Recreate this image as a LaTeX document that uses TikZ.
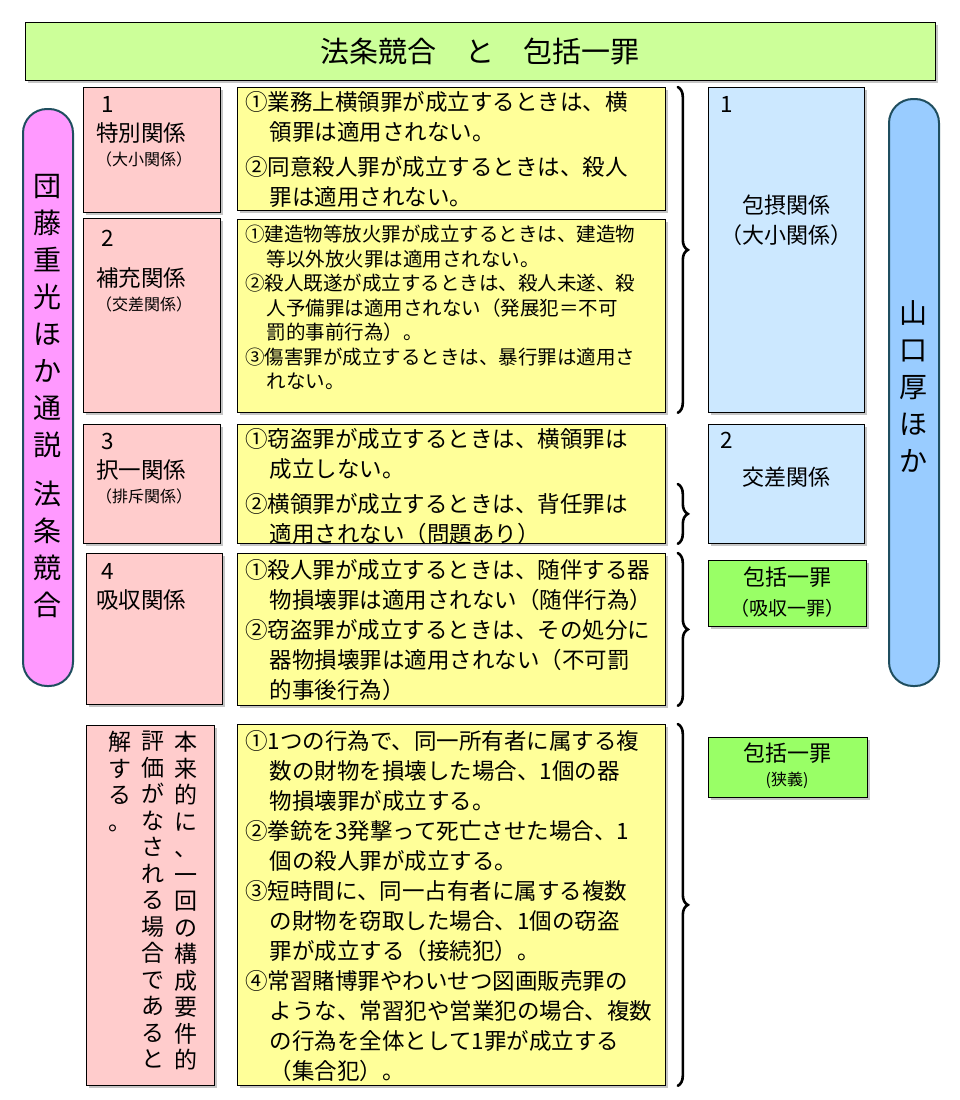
\documentclass[tikz,border=0pt]{standalone}
\usepackage{fontspec}
\setmainfont{Noto Sans CJK JP}[BoldFont={Noto Sans CJK JP Bold}]
\usetikzlibrary{shadows,decorations.pathreplacing}
\definecolor{tgreen}{HTML}{CCFF99}
\definecolor{tpink}{HTML}{FFCCCC}
\definecolor{tyel}{HTML}{FFFF99}
\definecolor{tblue}{HTML}{CCE8FF}
\definecolor{tgr2}{HTML}{99FF66}
\definecolor{tvio}{HTML}{FF99FF}
\definecolor{tsky}{HTML}{99CCFF}
\definecolor{tedge}{HTML}{1F4E5F}
\begin{document}
\begin{tikzpicture}[x=1pt,y=-1pt,
  box/.style={draw=black,line width=0.8pt,anchor=north west,inner sep=0pt,
    drop shadow={shadow xshift=3pt,shadow yshift=-3pt,fill=black!45}},
  pill/.style={draw=tedge,line width=2pt,rounded corners=24pt,anchor=north west,inner sep=0pt},
  txt/.style={anchor=north west,align=left,inner sep=0pt,font=\fontsize{22.5}{30}\selectfont},
  stxt/.style={anchor=north west,align=left,inner sep=0pt,font=\fontsize{19.5}{24.5}\selectfont},
  ctxt/.style={align=center,inner sep=0pt,font=\fontsize{22}{30}\selectfont},
  vtxt/.style={align=center,inner sep=0pt,font=\fontsize{28}{37}\selectfont},
  brc/.style={decorate,decoration={brace,amplitude=10pt},line width=2.6pt,line cap=round}]
\useasboundingbox (0,0) rectangle (960,1100);
% title
\node[box,fill=tgreen,minimum width=910pt,minimum height=58pt] (title) at (25,22) {};
\node[font=\fontsize{29}{30}\selectfont] (titlet) at (title.center) {法条競合　と　包括一罪};
% pills
\node[pill,fill=tvio,minimum width=50pt,minimum height=577pt] (lp) at (22,108) {};
\node[vtxt] (lpt) at (47,396) {団\\藤\\重\\光\\ほ\\か\\通\\説\\[12pt]法\\条\\競\\合};
\node[pill,fill=tsky,minimum width=50pt,minimum height=587pt] (rp) at (888,98) {};
\node[vtxt,anchor=north] (rpt) at (913,300) {山\\口\\厚\\ほ\\か};
% pink boxes
\node[box,fill=tpink,minimum width=137pt,minimum height=125pt] (p1) at (83,87) {};
\node[box,fill=tpink,minimum width=137pt,minimum height=194pt] (p2) at (83,218) {};
\node[box,fill=tpink,minimum width=137pt,minimum height=119pt] (p3) at (83,424) {};
\node[box,fill=tpink,minimum width=136pt,minimum height=151pt] (p4) at (86,553) {};
\node[box,fill=tpink,minimum width=128pt,minimum height=360pt] (p5) at (86,725) {};
\node[txt] (p1t) at (96,96) {\ 1\\[-1pt]特別関係\\[-6pt]{\fontsize{16}{18}\selectfont （大小関係）}};
\node[txt] (p2t) at (96,230) {\ 2\\[10pt]補充関係\\[-6pt]{\fontsize{16}{18}\selectfont （交差関係）}};
\node[txt] (p3t) at (96,433) {\ 3\\[-1pt]択一関係\\[-6pt]{\fontsize{16}{18}\selectfont （排斥関係）}};
\node[txt] (p4t) at (96,563) {\ 4\\[-1pt]吸収関係};
\node[vtxt,font=\fontsize{23}{26.5}\selectfont,anchor=north] (p5a) at (186,731) {本\\来\\的\\に\\、\\一\\回\\の\\構\\成\\要\\件\\的};
\node[vtxt,font=\fontsize{23}{26.5}\selectfont,anchor=north] (p5b) at (153,731) {評\\価\\が\\な\\さ\\れ\\る\\場\\合\\で\\あ\\る\\と};
\node[vtxt,font=\fontsize{23}{26.5}\selectfont,anchor=north] (p5c) at (120,731) {解\\す\\る\\。};
% yellow boxes
\node[box,fill=tyel,minimum width=428pt,minimum height=123pt] (y1) at (237,87) {};
\node[box,fill=tyel,minimum width=428pt,minimum height=193pt] (y2) at (237,219) {};
\node[box,fill=tyel,minimum width=428pt,minimum height=119pt] (y3) at (237,424) {};
\node[box,fill=tyel,minimum width=428pt,minimum height=152pt] (y4) at (237,553) {};
\node[box,fill=tyel,minimum width=428pt,minimum height=361pt] (y5) at (237,724) {};
\node[txt] (y1t) at (245,91) {①業務上横領罪が成立するときは、横\\\hspace{1.1em}領罪は適用されない。\\[5pt]②同意殺人罪が成立するときは、殺人\\\hspace{1.1em}罪は適用されない。};
\node[stxt] (y2t) at (245,225) {①建造物等放火罪が成立するときは、建造物\\\hspace{1.1em}等以外放火罪は適用されない。\\②殺人既遂が成立するときは、殺人未遂、殺\\\hspace{1.1em}人予備罪は適用されない（発展犯＝不可\\\hspace{1.1em}罰的事前行為）。\\③傷害罪が成立するときは、暴行罪は適用さ\\\hspace{1.1em}れない。};
\node[txt] (y3t) at (245,428) {①窃盗罪が成立するときは、横領罪は\\\hspace{1.1em}成立しない。\\[5pt]②横領罪が成立するときは、背任罪は\\\hspace{1.1em}適用されない（問題あり）};
\node[txt] (y4t) at (245,559) {①殺人罪が成立するときは、随伴する器\\\hspace{1.1em}物損壊罪は適用されない（随伴行為）\\②窃盗罪が成立するときは、その処分に\\\hspace{1.1em}器物損壊罪は適用されない（不可罰\\\hspace{1.1em}的事後行為）};
\node[txt] (y5t) at (245,730) {①1つの行為で、同一所有者に属する複\\\hspace{1.1em}数の財物を損壊した場合、1個の器\\\hspace{1.1em}物損壊罪が成立する。\\②拳銃を3発撃って死亡させた場合、1\\\hspace{1.1em}個の殺人罪が成立する。\\③短時間に、同一占有者に属する複数\\\hspace{1.1em}の財物を窃取した場合、1個の窃盗\\\hspace{1.1em}罪が成立する（接続犯）。\\④常習賭博罪やわいせつ図画販売罪の\\\hspace{1.1em}ような、常習犯や営業犯の場合、複数\\\hspace{1.1em}の行為を全体として1罪が成立する\\\hspace{1.1em}（集合犯）。};
% braces
\draw[brc] ([xshift=12pt]y1.north east) -- ([xshift=12pt]y2.south east);
\draw[brc] ([xshift=12pt,yshift=-60pt]y3.north east) -- ([xshift=12pt]y3.south east);
\draw[brc] ([xshift=12pt]y4.north east) -- ([xshift=12pt]y4.south east);
\draw[brc] ([xshift=12pt]y5.north east) -- ([xshift=12pt]y5.south east);
% right boxes
\node[box,fill=tblue,minimum width=156pt,minimum height=325pt] (b1) at (708,87) {};
\node[box,fill=tblue,minimum width=156pt,minimum height=119pt] (b2) at (708,424) {};
\node[box,fill=tgr2,minimum width=158pt,minimum height=66pt] (g1) at (708,560) {};
\node[box,fill=tgr2,minimum width=159pt,minimum height=60pt] (g2) at (708,737) {};
\node[txt] (b1n) at (720,96) {1};
\node[ctxt] (b1t) at (786,220) {包摂関係\\（大小関係）};
\node[txt] (b2n) at (720,432) {2};
\node[ctxt] (b2t) at (786,477) {交差関係};
\node[ctxt] (g1t) at (787,592) {包括一罪\\{\fontsize{19}{24}\selectfont （吸収一罪）}};
\node[ctxt] (g2t) at (787,766) {包括一罪\\[-6pt]{\fontsize{16}{18}\selectfont (狭義)}};
\end{tikzpicture}
\end{document}
